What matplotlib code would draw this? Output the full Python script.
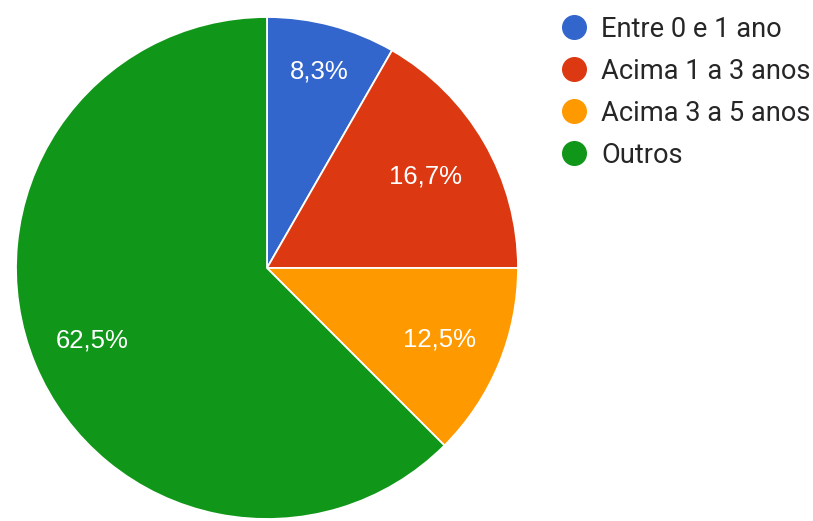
import matplotlib.pyplot as plt
import numpy as np
from matplotlib.lines import Line2D

categorias = ["Entre 0 e 1 ano", "Acima 1 a 3 anos", "Acima 3 a 5 anos", "Outros"]
percentuais = [8.3, 16.7, 12.5, 62.5]
rotulos = ["8,3%", "16,7%", "12,5%", "62,5%"]
cores = ["#3366cc", "#dc3912", "#ff9900", "#109618"]

# distancia radial de cada rotulo (fracao do raio)
dist_rotulo = [0.81, 0.73, 0.745, 0.755]

fig = plt.figure(figsize=(8.13, 5.21), dpi=100)
W, H = 813, 521
cx, cy, r = 267, 268, 251
ax = fig.add_axes([(cx - r) / W, 1 - (cy + r) / H, 2 * r / W, 2 * r / H])

fatias, _ = ax.pie(
    percentuais,
    colors=cores,
    startangle=90,
    counterclock=False,
    radius=1,
    wedgeprops=dict(edgecolor="white", linewidth=1.3),
)
ax.set_xlim(-1, 1)
ax.set_ylim(-1, 1)
ax.set_aspect("auto")
ax.axis("off")

for fatia, texto, d in zip(fatias, rotulos, dist_rotulo):
    ang = np.deg2rad((fatia.theta1 + fatia.theta2) / 2)
    ax.text(d * np.cos(ang), d * np.sin(ang), texto, color="white",
            fontsize=18.5, family="Liberation Sans", ha="center", va="center")

handles = [
    Line2D([], [], marker="o", linestyle="none", markersize=17,
           markerfacecolor=c, markeredgecolor=c)
    for c in cores
]
fig.legend(
    handles, categorias,
    loc="upper left",
    bbox_to_anchor=(562 / W, 1 - 16 / H),
    frameon=False,
    borderpad=0,
    borderaxespad=0,
    handlelength=0.9,
    handletextpad=0.55,
    labelspacing=0.55,
    prop={"family": "Roboto", "size": 19.6},
    labelcolor="#262626",
)

fig.savefig("out.png", dpi=100, facecolor="white")
